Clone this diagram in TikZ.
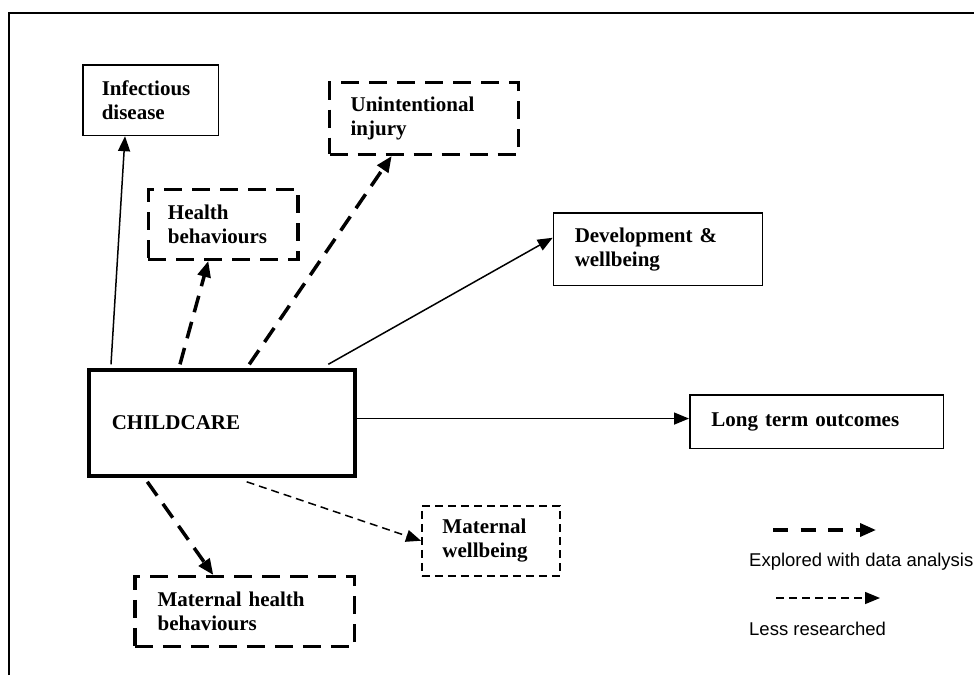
\documentclass[tikz,border=0pt]{standalone}
\usepackage{fontspec}
\setmainfont{Liberation Serif}
\newfontfamily\legendfont{Liberation Sans}
\usetikzlibrary{arrows.meta}
\begin{document}
\begin{tikzpicture}[x=1pt,y=-1pt,
  boxbase/.style={rectangle, align=left, anchor=north west, inner ysep=0pt,
    font=\bfseries\fontsize{21}{24}\selectfont},
  solidbox/.style={boxbase, draw, line width=1.5pt},
  childbox/.style={boxbase, draw, line width=3.5pt},
  thickbox/.style={boxbase, draw, line width=3.3pt, dash pattern=on 18pt off 10pt},
  thinbox/.style={boxbase, draw, line width=1.5pt, dash pattern=on 8pt off 5pt},
  sarr/.style={line width=1.5pt, -{Triangle[length=15pt,width=12pt]}},
  darr/.style={line width=3.5pt, dash pattern=on 17pt off 10pt, -{Triangle[length=16pt,width=13pt]}},
  tarr/.style={line width=1.5pt, dash pattern=on 8pt off 5pt, -{Triangle[length=15pt,width=12pt]}},
  legendtext/.style={anchor=base west, inner sep=0pt, font=\legendfont\fontsize{18.5}{21}\selectfont}
]
\useasboundingbox (0,0) rectangle (974,675);
\draw[line width=2pt] (8.5,675) -- (8.5,12.5) -- (974,12.5);

\node[solidbox, text width=97.7pt, inner xsep=19pt, minimum height=70.4pt] (inf) at (82,64.3) {Infectious\\disease};
\node[thickbox, text width=146.7pt, inner xsep=21pt, minimum height=71.7pt] (ui) at (328,81) {Unintentional\\injury};
\node[thickbox, text width=110.4pt, inner xsep=19.6pt, minimum height=70pt] (hb) at (146.7,187.7) {Health\\behaviours};
\node[solidbox, text width=166.4pt, inner xsep=21.3pt, minimum height=72.4pt] (dev) at (552.7,212.3) {Development \&\\wellbeing};
\node[solidbox, text width=210.3pt, inner xsep=21.7pt, minimum height=53.4pt] (lt) at (689,394.3) {Long term outcomes};
\node[childbox, text width=220.6pt, inner xsep=22.7pt, minimum height=106pt] (child) at (87.3,368.3) {CHILDCARE};
\node[thinbox, text width=96.6pt, inner xsep=20.7pt, minimum height=70pt] (mw) at (421,505) {Maternal\\wellbeing};
\node[thickbox, text width=174pt, inner xsep=22.7pt, minimum height=70pt] (mh) at (133.3,575) {Maternal health\\behaviours};

\draw[sarr] ([xshift=23.7pt,yshift=4pt]child.north west) -- ([xshift=43pt]inf.south west);
\draw[darr] ([xshift=92.7pt,yshift=4pt]child.north west) -- ([xshift=61.6pt]hb.south west);
\draw[darr] ([xshift=162pt,yshift=4pt]child.north west) -- ([xshift=63.7pt]ui.south west);
\draw[sarr] ([xshift=241pt,yshift=4pt]child.north west) -- ([yshift=11.5pt]dev.west);
\draw[sarr] ([yshift=4.5pt]child.east) coordinate (ltstart) -- (ltstart -| lt.west);
\draw[tarr] ([xshift=159.4pt,yshift=-4pt]child.south west) -- (mw.west);
\draw[darr] ([xshift=60pt,yshift=-4pt]child.south west) -- ([xshift=80pt]mh.north west);

\coordinate (l1s) at (773,530);
\coordinate (l1e) at (876,530);
\coordinate (l2s) at (776,598);
\coordinate (l2e) at (880,598);
\draw[line width=3.5pt, dash pattern=on 15pt off 12.5pt, -{Triangle[length=16pt,width=13pt]}] (l1s) -- (l1e);
\draw[tarr] (l2s) -- (l2e);
\node[legendtext] (lg1) at (749,566.7) {Explored with data analysis};
\node[legendtext] (lg2) at (749,635) {Less researched};
\end{tikzpicture}
\end{document}
